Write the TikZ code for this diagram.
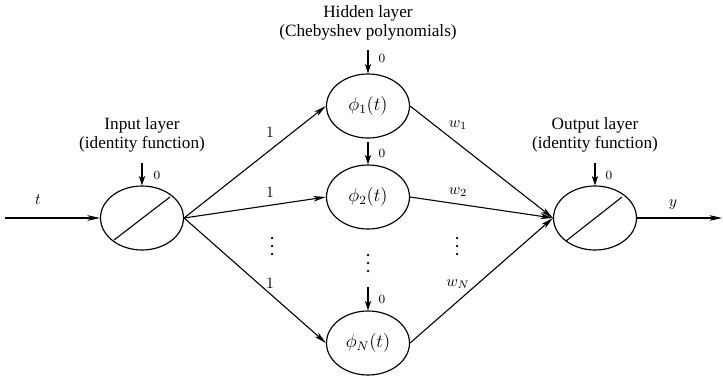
\documentclass[tikz,border=0pt]{standalone}
\usepackage[no-math]{fontspec}
\setmainfont{Liberation Serif}
\usetikzlibrary{arrows.meta,shapes.geometric,calc}
\begin{document}
\begin{tikzpicture}[x=0.639pt,y=-0.639pt,
  neuron/.style={ellipse,draw,line width=0.75pt,minimum width=83*0.639pt,minimum height=64*0.639pt,inner sep=0pt,font=\large},
  conn/.style={line width=0.7pt,-{Stealth[length=8pt,width=3.6pt,inset=2.2pt]}},
  zarrow/.style={line width=0.7pt,-{Stealth[length=6pt,width=4pt,inset=1.5pt]}},
  zero/.style={font=\fontsize{8}{9}\selectfont,inner sep=0pt},
  lab/.style={inner sep=0pt},
  vdot/.style={circle,fill,inner sep=0pt,minimum size=1.6pt},
  title/.style={align=center,font=\fontsize{11}{12.2}\selectfont,inner sep=0pt}]
\useasboundingbox (0,0) rectangle (723,379);
% nodes
\node[neuron] (in) at (142,218) {};
\node[neuron] (h1) at (368,106) {$\phi_1(t)$};
\node[neuron] (h2) at (368,197) {$\phi_2(t)$};
\node[neuron] (hN) at (368,343) {$\phi_N(t)$};
\node[neuron] (out) at (595,218) {};
% identity lines
\draw[line width=0.7pt] ($(in.center)+(-28,22)$) -- ($(in.center)+(28,-21)$);
\draw[line width=0.7pt] ($(out.center)+(-29,23)$) -- ($(out.center)+(27,-21)$);
% titles
\node[title] (tin) at (142,135) {Input layer\\(identity function)};
\node[title] (thid) at (368,22.5) {Hidden layer\\(Chebyshev polynomials)};
\node[title] (tout) at (595,135) {Output layer\\(identity function)};
% input / output
\coordinate (tstart) at (5,218);
\coordinate (yend) at (722,218);
\draw[conn] (tstart) -- (in.west);
\draw[conn] (out.east) -- (yend);
\node[lab] (lt) at (38,200) {$t$};
\node[lab] (ly) at (673,205) {$y$};
% edges
\draw[conn] (in.east) -- (h1.west);
\draw[conn] (in.east) -- (h2.west);
\draw[conn] (in.east) -- (hN.west);
\draw[conn] (h1.east) -- (out.west);
\draw[conn] (h2.east) -- (out.west);
\draw[conn] (hN.east) -- (out.west);
\node[lab] (l1a) at (270,132) {$1$};
\node[lab] (l1b) at (270,192) {$1$};
\node[lab] (l1c) at (270,283) {$1$};
\node[lab] (w1) at (458,125) {$w_1$};
\node[lab] (w2) at (458,192) {$w_2$};
\node[lab] (wN) at (458,284) {$w_N$};
% vertical dots
\foreach \i/\y in {a/238,b/246,c/254} {
  \node[vdot] (dl\i) at (272,\y) {};
  \node[vdot] (dr\i) at (457,\y) {};
}
\foreach \i/\y in {a/255,b/263,c/271} {
  \node[vdot] (dm\i) at (368,\y) {};
}
% zero biases
\draw[zarrow] ($(in.north)+(0,-22)$) -- (in.north);
\draw[zarrow] ($(h1.north)+(0,-23)$) -- (h1.north);
\draw[zarrow] ($(h2.north)+(0,-22)$) -- (h2.north);
\draw[zarrow] ($(hN.north)+(0,-23)$) -- (hN.north);
\draw[zarrow] ($(out.north)+(0,-22)$) -- (out.north);
\node[zero] (z0) at (157,175) {$0$};
\node[zero] (z1) at (382,58) {$0$};
\node[zero] (z2) at (382,153) {$0$};
\node[zero] (z3) at (382,299) {$0$};
\node[zero] (z4) at (609,175) {$0$};
\end{tikzpicture}
\end{document}
